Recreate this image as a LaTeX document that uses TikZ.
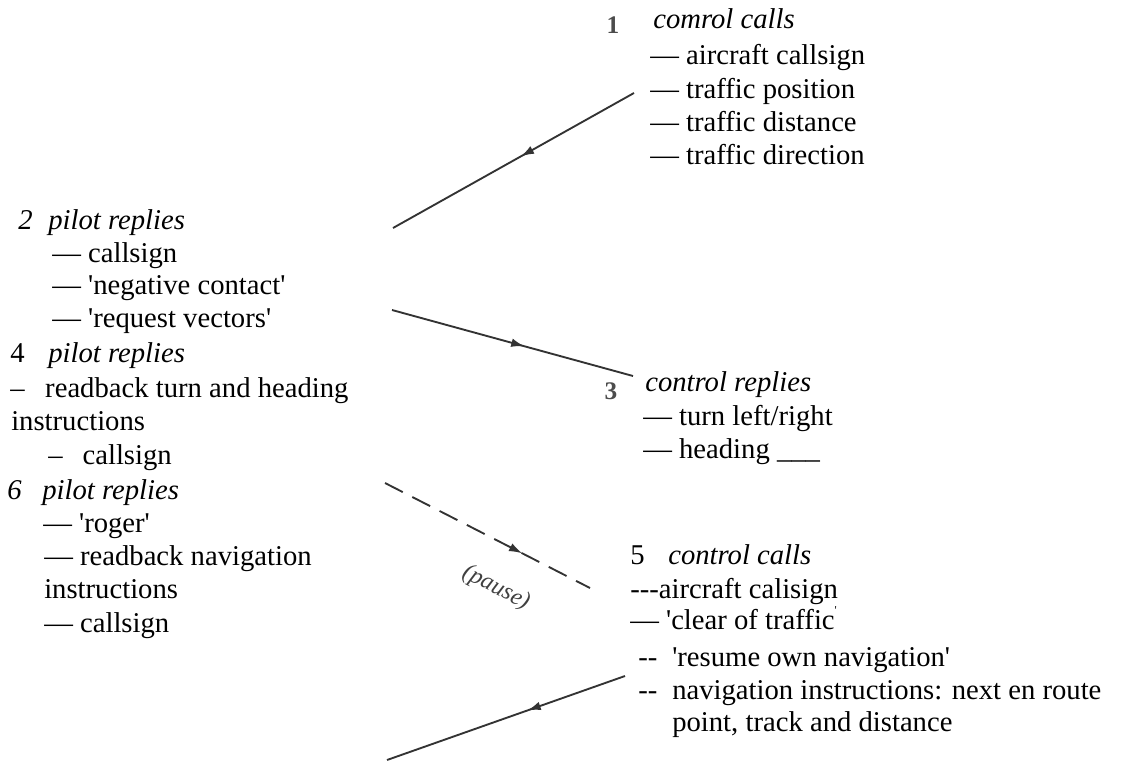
\documentclass[tikz,border=0pt]{standalone}
\usepackage{fontspec}
\setmainfont{Liberation Serif}[Ligatures=TeXOff]
\usetikzlibrary{arrows.meta, decorations.markings}

\tikzset{
  txt/.style={anchor=base west, inner sep=0pt, font=\fontsize{21.5}{25}\selectfont},
  scannum/.style={anchor=center, inner sep=0pt, text=black!70, font=\fontsize{19}{19}\selectfont\bfseries},
  msg/.style={draw=black!80, line width=1.4pt, postaction={decorate}},
  midarrow/.style={decoration={markings, mark=at position #1 with {\arrow{Latex[length=10pt,width=6.5pt]}}}},
}

\begin{document}
\begin{tikzpicture}[x=0.75pt, y=-0.75pt]
    \useasboundingbox (0,0) rectangle (1123,763);

    % message lines
    \coordinate (s1) at (634,93);  \coordinate (e1) at (393,228);
    \coordinate (s2) at (392,310); \coordinate (e2) at (633,376);
    \coordinate (s3) at (385,483); \coordinate (e3) at (590,588);
    \coordinate (s4) at (625,676); \coordinate (e4) at (387,760);
    \draw[msg, midarrow=0.47] (s1) -- (e1);
    \draw[msg, midarrow=0.55] (s2) -- (e2);
    \draw[msg, midarrow=0.67, dash pattern=on 15pt off 8pt] (s3) -- (e3);
    \draw[msg, midarrow=0.41] (s4) -- (e4);
    \node[rotate=-27, inner sep=0pt, text=black!75, font=\fontsize{18}{18}\selectfont\itshape] (pause) at (496,588) {(pause)};

    % 1 control calls
    \node[scannum] (n1) at (613,25) {1};
    \node[txt] (c1) at (653,29) {\itshape comrol calls};
    \node[txt] (c1a) at (650,65) {— aircraft callsign};
    \node[txt] (c1b) at (650,99) {— traffic position};
    \node[txt] (c1c) at (650,132) {— traffic distance};
    \node[txt] (c1d) at (650,165) {— traffic direction};

    % 2 pilot replies
    \node[txt] (n2) at (18,229) {\itshape 2};
    \node[txt] (p2) at (48,229) {\itshape pilot replies};
    \node[txt] (p2a) at (52,262) {— callsign};
    \node[txt] (p2b) at (52,294) {— 'negative contact'};
    \node[txt] (p2c) at (52,327) {— 'request vectors'};

    % 3 control replies
    \node[scannum] (n3) at (611,391) {3};
    \node[txt] (c3) at (645,391) {\itshape control replies};
    \node[txt] (c3a) at (643,425) {— turn left/right};
    \node[txt] (c3b) at (643,458) {— heading \_\_\_};

    % 4 pilot replies
    \node[txt] (n4) at (10,362) {4};
    \node[txt] (p4) at (48,362) {\itshape pilot replies};
    \node[txt] (p4a) at (10,397) {–\hspace{15.5pt}readback turn and heading};
    \node[txt] (p4b) at (11,430) {instructions};
    \node[txt] (p4c) at (48,464) {–\hspace{15pt}callsign};

    % 5 control calls
    \node[txt] (n5) at (630,564) {5};
    \node[txt] (c5) at (668,564) {\itshape control calls};
    \node[txt] (c5a) at (630,598) {---aircraft calisign};
    \node[txt] (c5b) at (630,629) {— 'clear of traffic\raisebox{1.1ex}{\fontsize{9}{9}\selectfont'}};
    \node[txt] (c5c) at (638,666) {--};
    \node[txt] (c5d) at (672,666) {'resume own navigation'};
    \node[txt] (c5e) at (638,699) {--};
    \node[txt] (c5f) at (672,699) {navigation instructions: next en route};
    \node[txt] (c5g) at (672,731) {point, track and distance};

    % 6 pilot replies
    \node[txt] (n6) at (7,499) {\itshape 6};
    \node[txt] (p6) at (42,499) {\itshape pilot replies};
    \node[txt] (p6a) at (43,532) {— 'roger'};
    \node[txt] (p6b) at (44,565) {— readback navigation};
    \node[txt] (p6c) at (44,598) {instructions};
    \node[txt] (p6d) at (44,632) {— callsign};
\end{tikzpicture}
\end{document}
